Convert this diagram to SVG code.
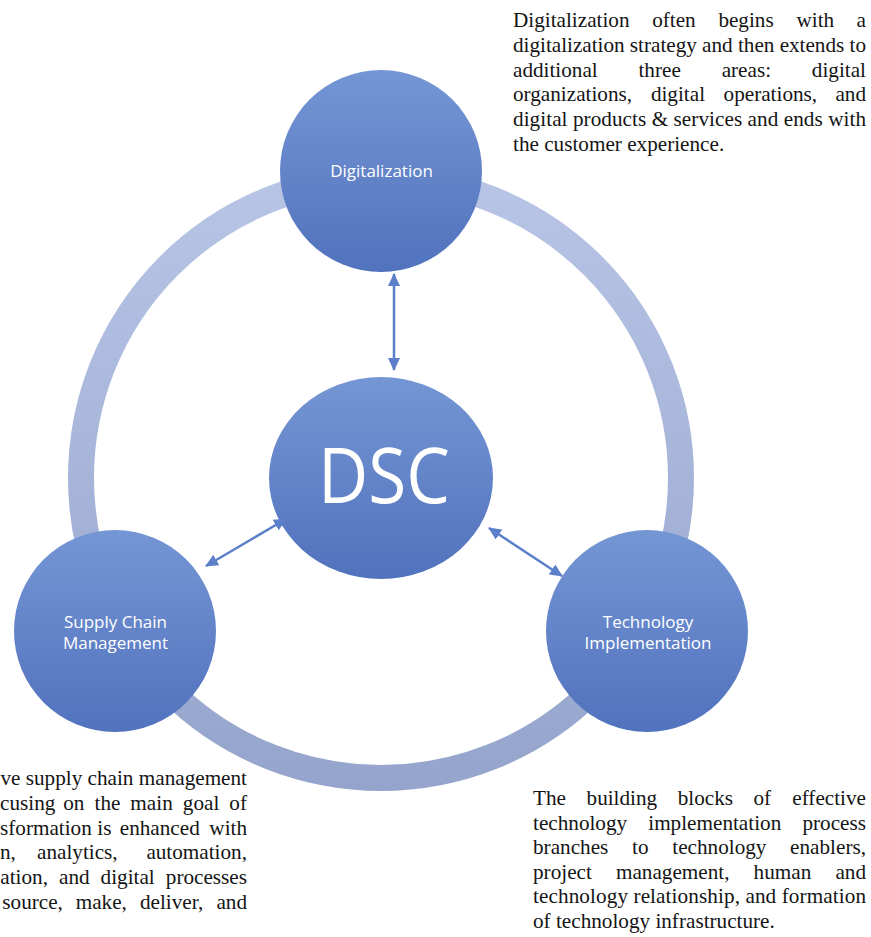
<svg xmlns="http://www.w3.org/2000/svg" width="871" height="937" viewBox="0 0 871 937">
<defs>
<linearGradient id="ringGrad" gradientUnits="userSpaceOnUse" x1="0" y1="165" x2="0" y2="792">
<stop offset="0" stop-color="#b8c5e6"/>
<stop offset="1" stop-color="#95a4cc"/>
</linearGradient>
<linearGradient id="nodeGrad" x1="0" y1="0" x2="0" y2="1">
<stop offset="0" stop-color="#7596d4"/>
<stop offset="1" stop-color="#5172bd"/>
</linearGradient>
<marker id="arr" viewBox="0 0 13 12" refX="12" refY="6" markerWidth="13" markerHeight="12" markerUnits="userSpaceOnUse" orient="auto-start-reverse">
<path d="M0,0 L13,6 L0,12 z" fill="#5b7fc8"/>
</marker>
</defs>
<style>
.node{fill:url(#nodeGrad);}
.lbl{font-family:"Open Sans","Noto Sans",sans-serif;font-size:17px;fill:#ffffff;text-anchor:middle;}
.body{font-family:"Liberation Serif","Times New Roman",serif;font-size:21.2px;fill:#141414;}
.conn{stroke:#5b7fc8;stroke-width:2.5;fill:none;marker-start:url(#arr);marker-end:url(#arr);}
.s{text-anchor:start;}
.m{text-anchor:middle;}
.e{text-anchor:end;}
</style>
<circle id="ring" cx="381" cy="478" r="300" fill="none" stroke="url(#ringGrad)" stroke-width="26"/>
<g id="node-digitalization">
<circle class="node" cx="381" cy="171" r="101"/>
<text class="lbl" x="381.5" y="177">Digitalization</text>
</g>
<g id="node-dsc">
<ellipse class="node" cx="381" cy="478" rx="112" ry="101"/>
<text x="384" y="503" font-family="'Open Sans','Noto Sans',sans-serif" font-size="76" fill="#ffffff" text-anchor="middle" textLength="132" lengthAdjust="spacingAndGlyphs">DSC</text>
</g>
<g id="node-scm">
<circle class="node" cx="115" cy="631" r="101"/>
<text class="lbl" x="115.5" y="628">Supply Chain</text>
<text class="lbl" x="115.5" y="649">Management</text>
</g>
<g id="node-tech">
<circle class="node" cx="647" cy="631" r="101"/>
<text class="lbl" x="648" y="628">Technology</text>
<text class="lbl" x="648" y="649">Implementation</text>
</g>
<g id="connectors">
<line class="conn" x1="394" y1="274" x2="394" y2="370"/>
<line class="conn" x1="206" y1="566" x2="286" y2="519"/>
<line class="conn" x1="489" y1="528" x2="562" y2="576"/>
</g>
<g id="text-digitalization">
<text class="body" y="27"><tspan class="s" x="513">Digitalization </tspan><tspan class="m" x="676.6">often </tspan><tspan class="m" x="748.7">begins </tspan><tspan class="m" x="818">with </tspan><tspan class="e" x="866">a</tspan></text>
<text class="body" x="513" y="51.8" textLength="353" lengthAdjust="spacing">digitalization strategy and then extends to</text>
<text class="body" y="76.6"><tspan class="s" x="513">additional </tspan><tspan class="m" x="662.3">three </tspan><tspan class="m" x="749">areas: </tspan><tspan class="e" x="866">digital</tspan></text>
<text class="body" y="101.4"><tspan class="s" x="513">organizations, </tspan><tspan class="m" x="680.6">digital </tspan><tspan class="m" x="773">operations, </tspan><tspan class="e" x="866">and</tspan></text>
<text class="body" x="513" y="126.2" textLength="353" lengthAdjust="spacing">digital products &amp; services and ends with</text>
<text class="body" x="513" y="151">the customer experience.</text>
</g>
<g id="text-scm">
<text class="body e" x="247" y="785">ve supply chain management</text>
<text class="body" y="809.8"><tspan class="s" x="0">cusing </tspan><tspan class="m" x="76.5">on </tspan><tspan class="m" x="110.1">the </tspan><tspan class="m" x="154.2">main </tspan><tspan class="m" x="203.7">goal </tspan><tspan class="e" x="247">of</tspan></text>
<text class="body" y="834.6"><tspan class="s" x="0">sformation </tspan><tspan class="m" x="107">is </tspan><tspan class="m" x="162.4">enhanced </tspan><tspan class="e" x="247">with</tspan></text>
<text class="body" y="859.4"><tspan class="s" x="0">n, </tspan><tspan class="s" x="37">analytics, </tspan><tspan class="e" x="247">automation,</tspan></text>
<text class="body" y="884.2"><tspan class="s" x="0.3">ation, </tspan><tspan class="m" x="77">and </tspan><tspan class="m" x="130.3">digital </tspan><tspan class="e" x="247">processes</tspan></text>
<text class="body" y="909"><tspan class="s" x="2.3">source, </tspan><tspan class="m" x="103.9">make, </tspan><tspan class="m" x="174.2">deliver, </tspan><tspan class="e" x="247">and</tspan></text>
</g>
<g id="text-tech">
<text class="body" y="805"><tspan class="s" x="533">The </tspan><tspan class="m" x="624.5">building </tspan><tspan class="m" x="708">blocks </tspan><tspan class="m" x="765">of </tspan><tspan class="e" x="866">effective</tspan></text>
<text class="body" y="829.6"><tspan class="s" x="533">technology </tspan><tspan class="m" x="717.4">implementation </tspan><tspan class="e" x="866">process</tspan></text>
<text class="body" y="854.2"><tspan class="s" x="533">branches </tspan><tspan class="m" x="643">to </tspan><tspan class="m" x="722">technology </tspan><tspan class="e" x="866">enablers,</tspan></text>
<text class="body" y="878.8"><tspan class="s" x="533">project </tspan><tspan class="m" x="675.4">management, </tspan><tspan class="m" x="785.1">human </tspan><tspan class="e" x="866">and</tspan></text>
<text class="body" x="533" y="903.4" textLength="333" lengthAdjust="spacing">technology relationship, and formation</text>
<text class="body" x="533" y="928">of technology infrastructure.</text>
</g>
</svg>
